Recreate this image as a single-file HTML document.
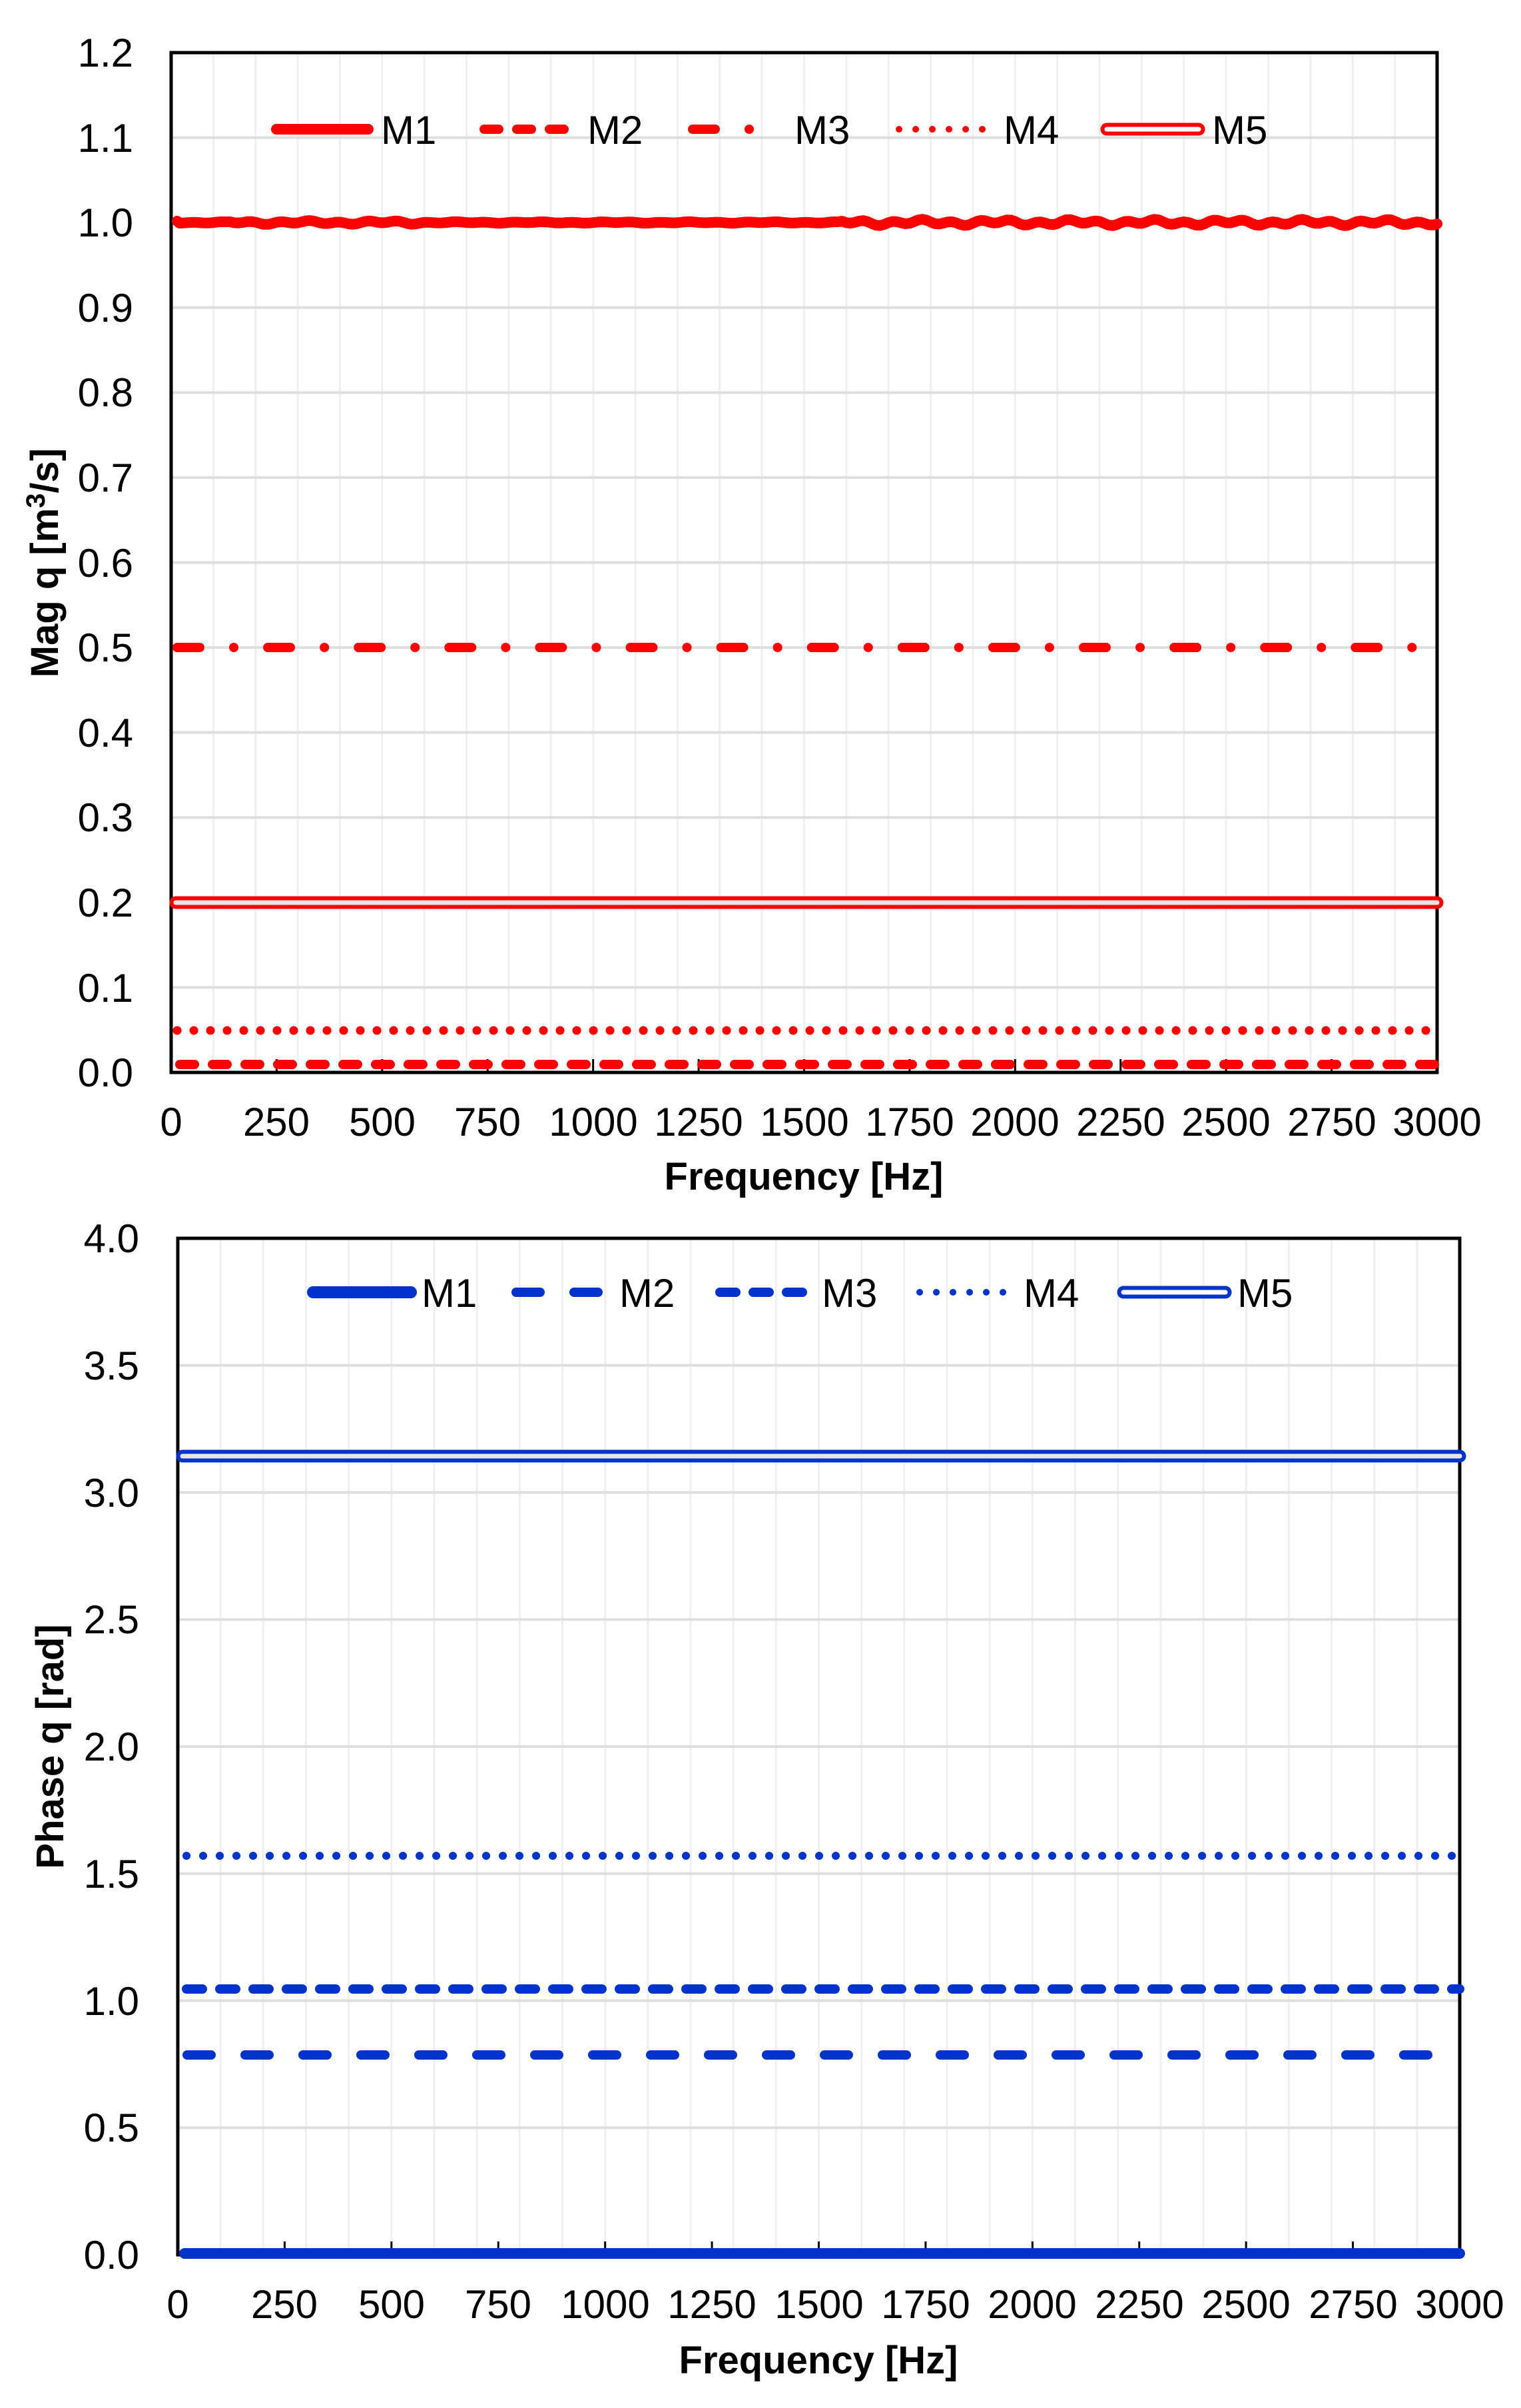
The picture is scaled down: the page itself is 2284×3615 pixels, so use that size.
<!DOCTYPE html>
<html><head><meta charset="utf-8"><style>
html,body{margin:0;padding:0;background:#fff;}
svg{display:block;}
text{font-family:"Liberation Sans",Arial,sans-serif;fill:#000;}
</style></head><body>
<svg id="s" width="2284" height="3615" viewBox="0 0 2284 3615" xmlns="http://www.w3.org/2000/svg">
<rect width="2284" height="3615" fill="#fff"/>
<g id="g1"></g>
<g id="g2"></g>

<rect x="257" y="79" width="1901" height="1531" fill="none" stroke="#000" stroke-width="5"/>
<g font-size="60" text-anchor="end">
<text x="200" y="100">1.2</text><text x="200" y="228">1.1</text><text x="200" y="355">1.0</text>
<text x="200" y="483">0.9</text><text x="200" y="610">0.8</text><text x="200" y="738">0.7</text>
<text x="200" y="866">0.6</text><text x="200" y="993">0.5</text><text x="200" y="1121">0.4</text>
<text x="200" y="1248">0.3</text><text x="200" y="1376">0.2</text><text x="200" y="1504">0.1</text>
<text x="200" y="1631">0.0</text>
</g>
<g font-size="60" text-anchor="middle">
<text x="257" y="1705">0</text><text x="415" y="1705">250</text><text x="574" y="1705">500</text>
<text x="732" y="1705">750</text><text x="891" y="1705">1000</text><text x="1049" y="1705">1250</text>
<text x="1208" y="1705">1500</text><text x="1366" y="1705">1750</text><text x="1524" y="1705">2000</text>
<text x="1683" y="1705">2250</text><text x="1841" y="1705">2500</text><text x="2000" y="1705">2750</text>
<text x="2158" y="1705">3000</text>
</g>
<text x="1207" y="1786" font-size="58" font-weight="bold" text-anchor="middle">Frequency [Hz]</text>
<text transform="translate(87,845) rotate(-90)" font-size="58" font-weight="bold" text-anchor="middle">Mag q [m<tspan font-size="40" dy="-20">3</tspan><tspan dy="20">/s]</tspan></text>

<g fill="none" stroke="#ff0000" stroke-linecap="round" stroke-linejoin="round">
<path id="m1top" d="M266 334 L2158 334" stroke-width="16"/>
<path d="M266 972 L2150 972" stroke-width="14" stroke-dasharray="34 51 0.1 51"/>
<path d="M264 1355 L2158 1355" stroke-width="19"/>
<path d="M264 1355 L2158 1355" stroke-width="7" stroke="#e6e6e6"/>
<path d="M266 1547 L2158 1547" stroke-width="13" stroke-dasharray="0.1 24.9"/>
<path d="M270 1598 L2158 1598" stroke-width="14" stroke-dasharray="22 27"/>
</g>
<g fill="none" stroke="#ff0000" stroke-linecap="round">
<path d="M415 194 L553 194" stroke-width="16"/>
<path d="M727 194 L863 194" stroke-width="14" stroke-dasharray="22 27"/>
<path d="M1040 194 L1176 194" stroke-width="14" stroke-dasharray="34 51 0.1 51"/>
<path d="M1350 194 L1489 194" stroke-width="10" stroke-dasharray="0.1 24.9"/>
<path d="M1662 194 L1800 194" stroke-width="19"/>
<path d="M1662 194 L1800 194" stroke-width="7" stroke="#fff"/>
</g>
<g font-size="60">
<text x="572" y="216">M1</text><text x="882" y="216">M2</text><text x="1193" y="216">M3</text>
<text x="1507" y="216">M4</text><text x="1820" y="216">M5</text>
</g>

<rect x="267" y="1859" width="1925" height="1526" fill="none" stroke="#000" stroke-width="5"/>
<g font-size="60" text-anchor="end">
<text x="209" y="1880">4.0</text><text x="209" y="2071">3.5</text><text x="209" y="2262">3.0</text>
<text x="209" y="2452">2.5</text><text x="209" y="2643">2.0</text><text x="209" y="2834">1.5</text>
<text x="209" y="3025">1.0</text><text x="209" y="3215">0.5</text><text x="209" y="3406">0.0</text>
</g>
<g font-size="60" text-anchor="middle">
<text x="267" y="3480">0</text><text x="427" y="3480">250</text><text x="588" y="3480">500</text>
<text x="748" y="3480">750</text><text x="909" y="3480">1000</text><text x="1069" y="3480">1250</text>
<text x="1230" y="3480">1500</text><text x="1390" y="3480">1750</text><text x="1550" y="3480">2000</text>
<text x="1711" y="3480">2250</text><text x="1871" y="3480">2500</text><text x="2032" y="3480">2750</text>
<text x="2192" y="3480">3000</text>
</g>
<text x="1229" y="3563" font-size="58" font-weight="bold" text-anchor="middle">Frequency [Hz]</text>
<text transform="translate(95,2622) rotate(-90)" font-size="58" font-weight="bold" text-anchor="middle">Phase q [rad]</text>

<g fill="none" stroke="#0033cc" stroke-linecap="round">
<path d="M274 2186 L2192 2186" stroke-width="19"/>
<path d="M274 2186 L2192 2186" stroke-width="7" stroke="#e6e6e6"/>
<path d="M280 2786 L2192 2786" stroke-width="12" stroke-dasharray="0.1 24.9"/>
<path d="M280 2986 L2192 2986" stroke-width="14" stroke-dasharray="24 26"/>
<path d="M281 3085 L2192 3085" stroke-width="14" stroke-dasharray="36 51"/>
<path d="M277 3383 L2192 3383" stroke-width="16"/>
</g>
<g fill="none" stroke="#0033cc" stroke-linecap="round">
<path d="M470 1940 L617 1940" stroke-width="18"/>
<path d="M775 1940 L914 1940" stroke-width="14" stroke-dasharray="36 51"/>
<path d="M1081 1940 L1215 1940" stroke-width="14" stroke-dasharray="24 26"/>
<path d="M1381 1940 L1512 1940" stroke-width="10" stroke-dasharray="0.1 24.9"/>
<path d="M1687 1940 L1840 1940" stroke-width="19"/>
<path d="M1687 1940 L1840 1940" stroke-width="7" stroke="#fff"/>
</g>
<g font-size="60">
<text x="633" y="1962">M1</text><text x="930" y="1962">M2</text><text x="1234" y="1962">M3</text>
<text x="1537" y="1962">M4</text><text x="1858" y="1962">M5</text>
</g>
</svg>
<script>
(function(){
var ns="http://www.w3.org/2000/svg";
function ln(g,x1,y1,x2,y2,c,w){var l=document.createElementNS(ns,"line");l.setAttribute("x1",x1);l.setAttribute("y1",y1);l.setAttribute("x2",x2);l.setAttribute("y2",y2);l.setAttribute("stroke",c);l.setAttribute("stroke-width",w);g.appendChild(l);}
var g1=document.getElementById("g1"),g2=document.getElementById("g2");
for(var i=1;i<30;i++){var x=257+i*1901/30;ln(g1,x,79,x,1610,"#efefef",3);}
for(var j=1;j<12;j++){var y=79+j*1531/12;ln(g1,257,y,2158,y,"#dedede",4);}
for(var k=1;k<12;k++){var x=257+k*1901/12;ln(g1,x,1610,x,1590,"#000",3);}
for(var i=1;i<30;i++){var x=267+i*1925/30;ln(g2,x,1859,x,3385,"#efefef",3);}
for(var j=1;j<8;j++){var y=1859+j*1526/8;ln(g2,267,y,2192,y,"#dedede",4);}
for(var k=1;k<12;k++){var x=267+k*1925/12;ln(g2,x,3385,x,3365,"#000",3);}
var d="M266 332";
for(var f=20;f<=3000;f+=10){var x=257+f*0.6337;var a=(f>130&&f<600)?2.5:(f>1580?4:1);var y=334+a*(Math.sin(f/11)*0.7+Math.sin(f/29)*0.5);d+=" L"+x.toFixed(1)+" "+y.toFixed(1);}
document.getElementById("m1top").setAttribute("d",d);
})();
</script>
</body></html>
